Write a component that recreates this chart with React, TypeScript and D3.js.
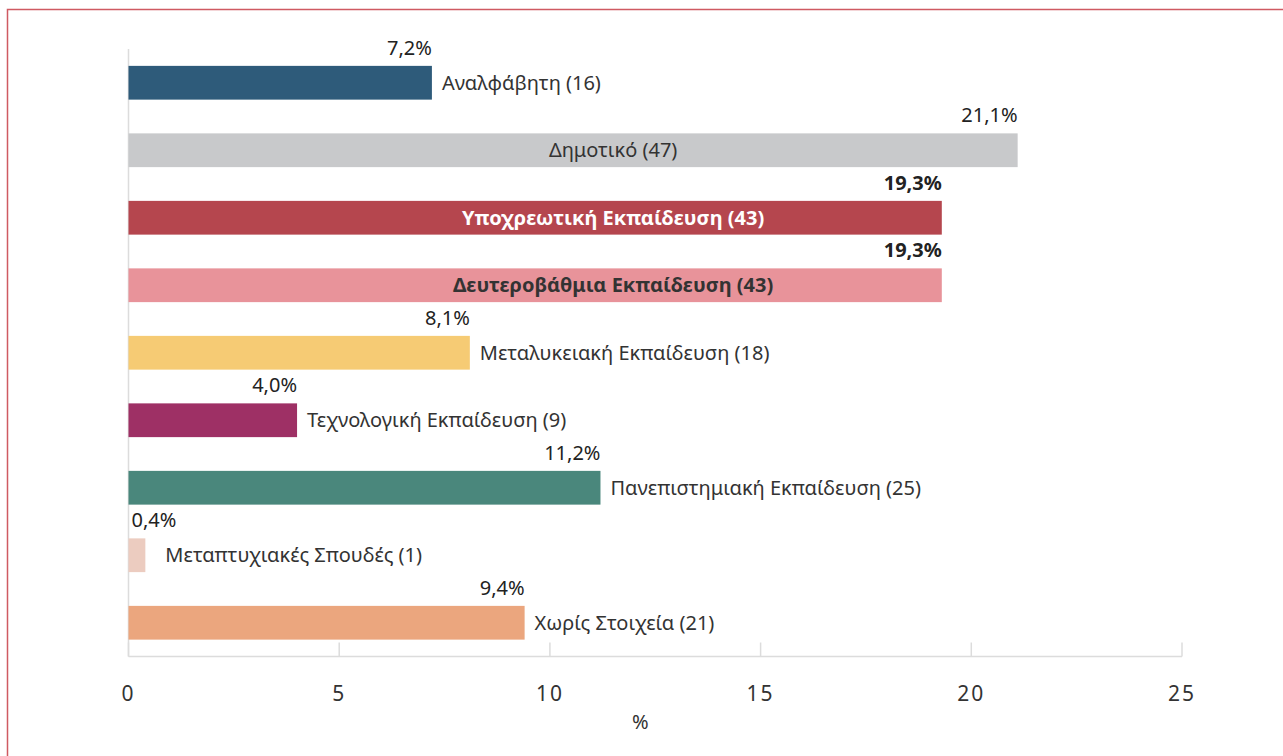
import * as d3 from 'd3';
import { useEffect, useRef } from 'react';

const categories = [
  'Αναλφάβητη',
  'Δημοτικό',
  'Υποχρεωτική Εκπαίδευση',
  'Δευτεροβάθμια Εκπαίδευση',
  'Μεταλυκειακή Εκπαίδευση',
  'Τεχνολογική Εκπαίδευση',
  'Πανεπιστημιακή Εκπαίδευση',
  'Μεταπτυχιακές Σπουδές',
  'Χωρίς Στοιχεία',
];
const percents = [7.2, 21.1, 19.3, 19.3, 8.1, 4.0, 11.2, 0.4, 9.4];
const counts = [16, 47, 43, 43, 18, 9, 25, 1, 21];
const colors = ['#2e5b7a', '#c8c9cb', '#b5464e', '#e8939a', '#f6cb74', '#9e3065', '#4a877c', '#ecccc0', '#eba67e'];
const boldRows = [2, 3];
const insideRows = [1, 2, 3];
const ticks = [0, 5, 10, 15, 20, 25];

const W = 1283;
const H = 756;
const FONT = '"Noto Sans", "Open Sans", sans-serif';

export default function App() {
  const ref = useRef<SVGSVGElement>(null);

  useEffect(() => {
    document.body.style.margin = '0';
    if (!ref.current) return;
    const svg = d3.select(ref.current);
    svg.selectAll('*').remove();

    const margin = { left: 128.5, right: 101, top: 49, bottom: 99.5 };
    const x = d3.scaleLinear().domain([0, 25]).range([margin.left, W - margin.right]);
    const y = d3.scaleBand<number>()
      .domain(d3.range(categories.length))
      .range([margin.top, H - margin.bottom])
      .paddingInner(0.5)
      .paddingOuter(0.25);

    // frame
    svg.append('rect')
      .attr('x', 7.5).attr('y', 9.5)
      .attr('width', W).attr('height', H)
      .attr('fill', 'none')
      .attr('stroke', '#cf5a62')
      .attr('stroke-width', 1.5);

    const base = H - margin.bottom;

    // axes
    svg.append('line')
      .attr('x1', x(0)).attr('x2', x(25))
      .attr('y1', base).attr('y2', base)
      .attr('stroke', '#dcdcdc').attr('stroke-width', 1.5);
    svg.append('line')
      .attr('x1', x(0)).attr('x2', x(0))
      .attr('y1', margin.top).attr('y2', base)
      .attr('stroke', '#dcdcdc').attr('stroke-width', 1.5);
    svg.selectAll('.tick')
      .data(ticks)
      .join('line')
      .attr('x1', d => x(d)).attr('x2', d => x(d))
      .attr('y1', base - 14).attr('y2', base)
      .attr('stroke', '#dcdcdc').attr('stroke-width', 1.5);
    svg.selectAll('.ticklabel')
      .data(ticks)
      .join('text')
      .attr('x', d => x(d))
      .attr('y', base + 44)
      .attr('text-anchor', 'middle')
      .attr('font-family', FONT)
      .attr('font-size', 21)
      .attr('letter-spacing', 2)
      .attr('fill', '#333')
      .text(d => d);
    svg.append('text')
      .attr('x', x(12.5) - 15)
      .attr('y', base + 72)
      .attr('text-anchor', 'middle')
      .attr('font-family', FONT)
      .attr('font-size', 20)
      .attr('fill', '#333')
      .text('%');

    const rows = d3.range(categories.length);

    // bars
    svg.selectAll('.bar')
      .data(rows)
      .join('rect')
      .attr('x', x(0))
      .attr('y', i => y(i)!)
      .attr('width', i => x(percents[i]) - x(0))
      .attr('height', y.bandwidth())
      .attr('fill', i => colors[i]);

    // percent labels
    svg.selectAll('.pct')
      .data(rows)
      .join('text')
      .attr('x', i => (x(percents[i]) - x(0) < 50 ? x(0) + 3 : x(percents[i])))
      .attr('y', i => y(i)! - 11)
      .attr('text-anchor', i => (x(percents[i]) - x(0) < 50 ? 'start' : 'end'))
      .attr('font-family', FONT)
      .attr('font-size', 20)
      .attr('font-weight', i => (boldRows.includes(i) ? 700 : 400))
      .attr('fill', '#222')
      .text(i => `${d3.format('.1f')(percents[i]).replace('.', ',')}%`);

    // category labels
    svg.selectAll('.cat')
      .data(rows)
      .join('text')
      .attr('x', i => {
        if (insideRows.includes(i)) return x(11.5);
        return x(percents[i]) + (percents[i] < 1 ? 20 : 10);
      })
      .attr('y', i => y(i)! + y.bandwidth() / 2)
      .attr('dy', '0.35em')
      .attr('text-anchor', i => (insideRows.includes(i) ? 'middle' : 'start'))
      .attr('font-family', FONT)
      .attr('font-size', 20)
      .attr('font-weight', i => (boldRows.includes(i) ? 700 : 400))
      .attr('fill', i => (i === 2 ? '#fff' : '#333'))
      .text(i => `${categories[i]} (${counts[i]})`);
  }, []);

  return <svg ref={ref} width={W} height={H} style={{ display: 'block' }} />;
}
